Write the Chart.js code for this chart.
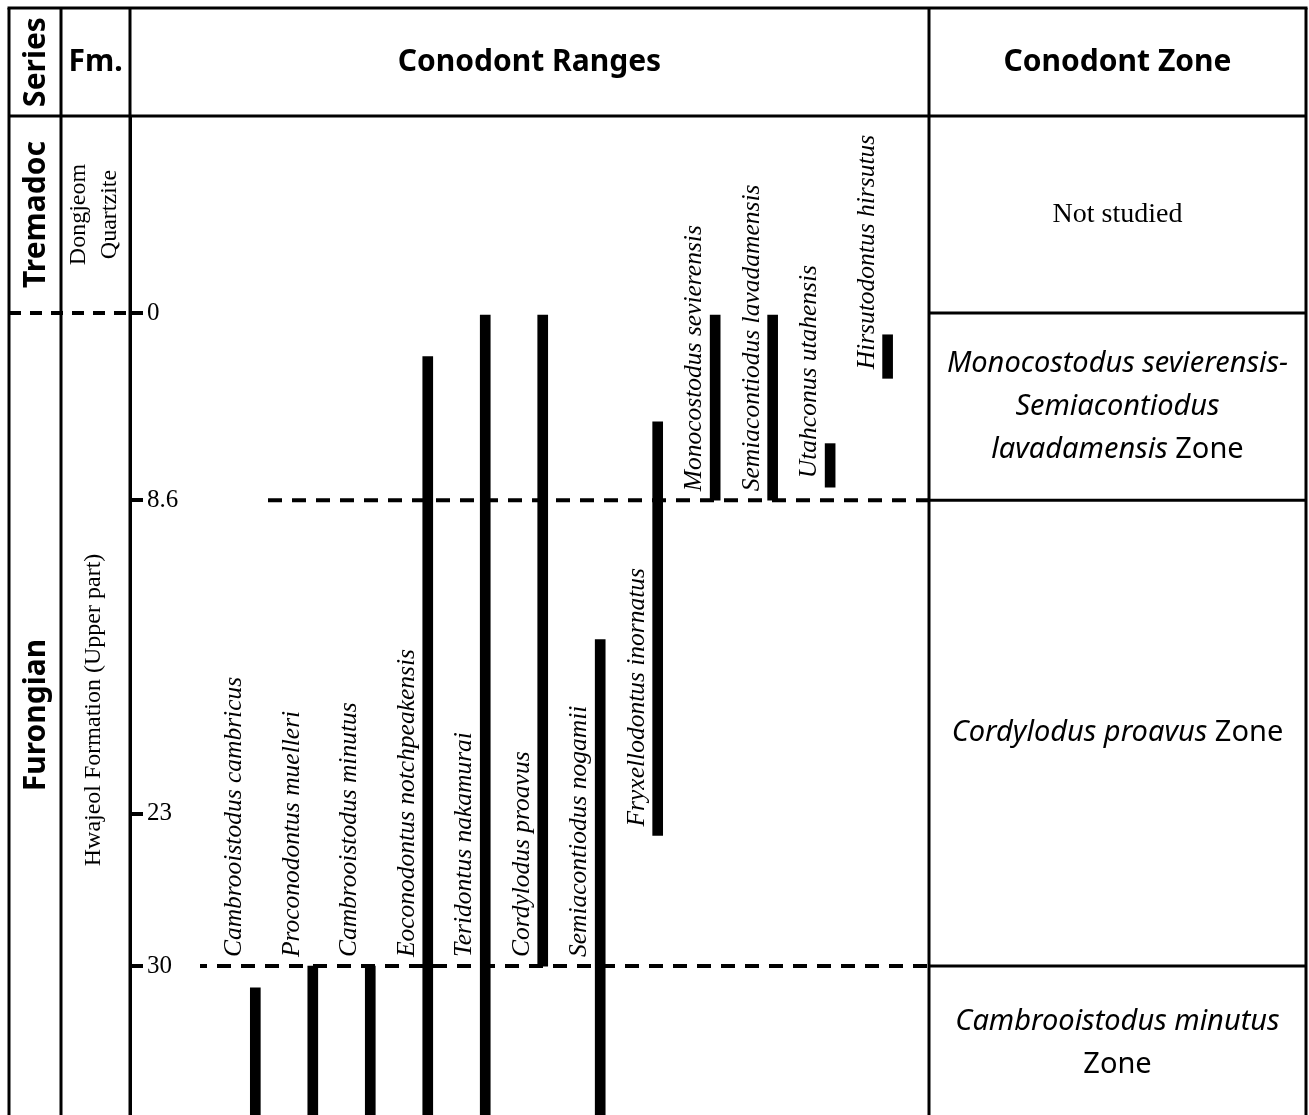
<!DOCTYPE html>
<html><head><meta charset="utf-8">
<script src="https://cdn.jsdelivr.net/npm/chart.js@4.4.1/dist/chart.umd.min.js"></script>
<style>html,body{margin:0;padding:0;background:#fff}canvas{display:block}</style>
</head><body>
<canvas id="c" width="1309" height="1115" style="width:1309px;height:1115px"></canvas>
<script>
// ---- data ----
const species = ['Cambrooistodus cambricus','Proconodontus muelleri','Cambrooistodus minutus','Eoconodontus notchpeakensis','Teridontus nakamurai','Cordylodus proavus','Semiacontiodus nogamii','Fryxellodontus inornatus','Monocostodus sevierensis','Semiacontiodus lavadamensis','Utahconus utahensis','Hirsutodontus hirsutus'];
const rangeTop  = [31, 30, 30, 2, 0, 0, 15, 5, 0, 0, 6, 1];
const rangeBase = [null, null, null, null, null, 30, null, 24, 8.6, 8.6, 8, 3]; // null = continues below the figure
const depthTicks = [0, 8.6, 23, 30];
const zoneBounds = [0, 8.6, 30];
const depthMin = -9.05, depthMax = 36.84;
const seriesNames = ['Tremadoc', 'Furongian'];
const formationNames = [['Dongjeom', 'Quartzite'], ['Hwajeol Formation (Upper part)']];
const headers = ['Series', 'Fm.', 'Conodont Ranges', 'Conodont Zone'];
const zoneLabels = [
  [[{t:'Not studied', serif:true}]],
  [[{t:'Monocostodus sevierensis-', it:true}], [{t:'Semiacontiodus', it:true}], [{t:'lavadamensis', it:true}, {t:' Zone'}]],
  [[{t:'Cordylodus proavus', it:true}, {t:' Zone'}]],
  [[{t:'Cambrooistodus minutus', it:true}], [{t:'Zone'}]]
];

const SANS = '"Noto Sans", "Open Sans", sans-serif';
const SERIF = '"Liberation Serif", "DejaVu Serif", serif';

function drawText(ctx, s, x, y, font, rot, align, baseline) {
  ctx.save(); ctx.translate(x, y); ctx.rotate(rot || 0);
  ctx.font = font; ctx.textAlign = align || 'center'; ctx.textBaseline = baseline || 'middle';
  ctx.fillStyle = '#000'; ctx.fillText(s, 0, 0); ctx.restore();
}

const decor = {
  id: 'decor',
  afterDraw(chart) {
    const {ctx, chartArea: a, scales: {x, y}} = chart;
    const L = 9, T = 8, R = 1306, sR = 61, B = chart.height;
    const line = (x1, y1, x2, y2) => { ctx.beginPath(); ctx.moveTo(x1, y1); ctx.lineTo(x2, y2); ctx.stroke(); };
    ctx.save();
    ctx.strokeStyle = '#000'; ctx.lineWidth = 3;
    line(L - 1.5, T, R + 1.5, T); line(L, T, L, B); line(R, T, R, B);
    line(L, a.top, R, a.top);
    line(sR, T, sR, B); line(a.left, T, a.left, B); line(a.right, T, a.right, B);
    zoneBounds.forEach(v => { const py = y.getPixelForValue(v); line(a.right, py, R, py); });
    // dashed boundaries
    ctx.lineWidth = 4;
    ctx.setLineDash([12, 9]);
    const y0 = y.getPixelForValue(zoneBounds[0]);
    line(L, y0, a.left, y0);
    ctx.setLineDash([14, 10]);
    const y1 = y.getPixelForValue(zoneBounds[1]);
    line(268, y1, a.right, y1);
    const y2 = y.getPixelForValue(zoneBounds[2]);
    ctx.lineDashOffset = 7;
    line(200, y2, a.right, y2);
    ctx.setLineDash([]);
    ctx.restore();

    // headers
    const hy = (T + a.top) / 2;
    const HB = 'bold 30px ' + SANS;
    drawText(ctx, headers[0], (L + sR) / 2 + 1, hy, HB, -Math.PI / 2);
    drawText(ctx, headers[1], (sR + a.left) / 2, hy, HB);
    drawText(ctx, headers[2], (a.left + a.right) / 2, hy, HB);
    drawText(ctx, headers[3], (a.right + R) / 2, hy, HB);

    // series
    drawText(ctx, seriesNames[0], (L + sR) / 2 + 1, (a.top + y0) / 2, HB, -Math.PI / 2);
    drawText(ctx, seriesNames[1], (L + sR) / 2 + 1, 715, HB, -Math.PI / 2);
    // formations
    const FS = '24px ' + SERIF;
    drawText(ctx, formationNames[0][0], 79, (a.top + y0) / 2, FS, -Math.PI / 2);
    drawText(ctx, formationNames[0][1], 110, (a.top + y0) / 2, FS, -Math.PI / 2);
    drawText(ctx, formationNames[1][0], 94, 710, FS, -Math.PI / 2);

    // species labels
    const SF = 'italic 25.5px ' + SERIF;
    species.forEach((s, i) => {
      const base = rangeBase[i] === null ? zoneBounds[2] : Math.min(rangeBase[i], zoneBounds[2]);
      const px = x.getPixelForValue(i) - 14;
      const py = y.getPixelForValue(base) - 9;
      drawText(ctx, s, px, py, SF, -Math.PI / 2, 'left', 'alphabetic');
    });

    // zone labels
    const zx = (a.right + R) / 2;
    const centers = [
      (a.top + y0) / 2, (y0 + y1) / 2, (y1 + y2) / 2, y2 + 77
    ];
    zoneLabels.forEach((lines, zi) => {
      const lh = 43;
      const top = centers[zi] - (lines.length - 1) * lh / 2;
      lines.forEach((segs, li) => {
        const fonts = segs.map(sg => sg.serif ? '28px ' + SERIF : (sg.it ? 'italic 29px ' : '29px ') + SANS);
        let w = 0; const ws = segs.map((sg, k) => { ctx.font = fonts[k]; const m = ctx.measureText(sg.t).width; w += m; return m; });
        let cx = zx - w / 2;
        segs.forEach((sg, k) => { drawText(ctx, sg.t, cx, top + li * lh, fonts[k], 0, 'left', 'middle'); cx += ws[k]; });
      });
    });
  }
};

new Chart(document.getElementById('c'), {
  type: 'bar',
  data: {
    datasets: [{
      data: species.map((s, i) => ({x: i, y: [rangeTop[i], rangeBase[i] === null ? depthMax : rangeBase[i]]})),
      backgroundColor: '#000', borderWidth: 0, barThickness: 10
    }]
  },
  options: {
    responsive: false, animation: false, devicePixelRatio: 1,
    layout: {padding: {left: 130, right: 380, top: 116, bottom: 0}},
    plugins: {legend: {display: false}, tooltip: {enabled: false}},
    scales: {
      x: {type: 'linear', min: -2.18, max: 11.72, display: false, offset: false, grid: {offset: false}},
      y: {
        type: 'linear', reverse: true, min: depthMin, max: depthMax,
        afterFit(s) { s.width = 0; s.paddingTop = 0; s.paddingBottom = 0; },
        afterBuildTicks(s) { s.ticks = depthTicks.map(v => ({value: v})); },
        ticks: {mirror: true, padding: 17, autoSkip: false, color: '#000',
                font: {family: 'Liberation Serif', size: 25}, callback: v => String(v)},
        grid: {drawOnChartArea: false, drawTicks: true, tickLength: -13, lineWidth: 4, color: '#000'},
        border: {display: true, width: 3, color: '#000'}
      }
    }
  },
  plugins: [decor]
});
</script>
</body></html>
